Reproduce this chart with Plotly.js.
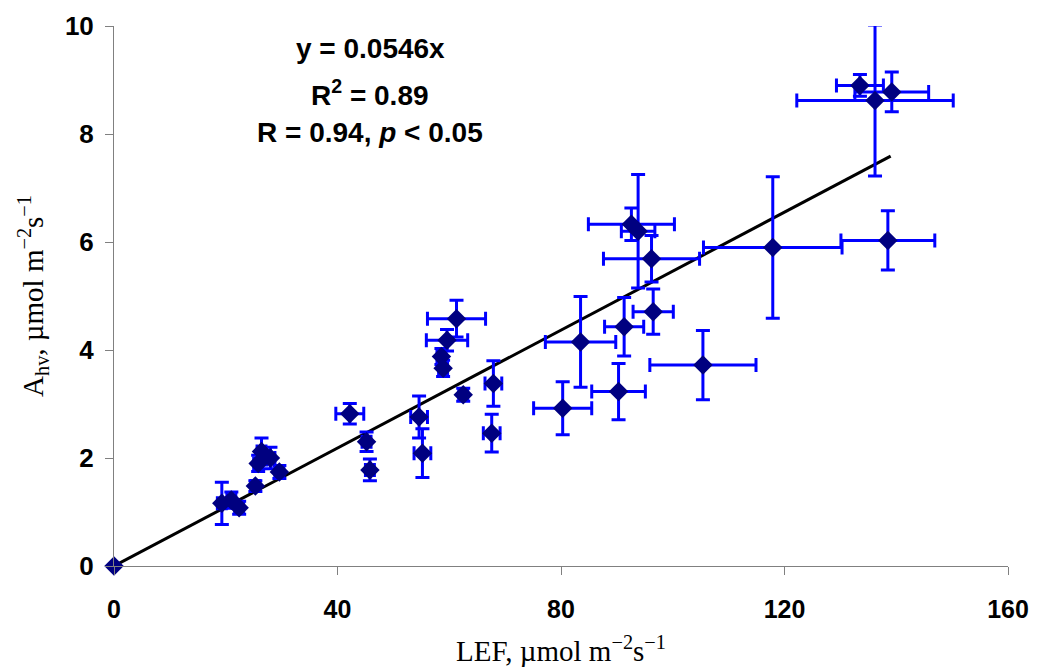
<!DOCTYPE html>
<html>
<head>
<meta charset="utf-8">
<script src="https://cdn.plot.ly/plotly-3.0.1.min.js"></script>
<style>html,body{margin:0;padding:0;background:#fff;}#chart{width:1045px;height:670px;}</style>
</head>
<body>
<div id="chart"></div>
<script>
const lef   = [0, 19.3, 21.0, 22.4, 25.3, 26.4, 25.8, 28.0, 29.6, 42.2, 45.2, 45.8, 54.6, 55.2, 61.3, 59.6, 58.6, 58.9, 62.5, 67.9, 67.6, 92.6, 93.8, 96.2, 96.5, 91.3, 83.5, 90.3, 80.3, 105.4, 117.9, 138.5, 133.5, 136.2, 139.2];
const ahv   = [0, 1.16, 1.22, 1.08, 1.48, 2.12, 1.90, 2.00, 1.74, 2.82, 2.30, 1.78, 2.76, 2.09, 4.58, 4.18, 3.88, 3.66, 3.17, 3.38, 2.46, 6.33, 6.20, 5.69, 4.71, 4.43, 4.15, 3.23, 2.92, 3.72, 5.90, 6.03, 8.90, 8.62, 8.78];
const lefErr = [0, 0.8, 0.8, 0.8, 0.8, 0.8, 0.8, 0.8, 0.8, 2.5, 0.8, 0.8, 1.5, 1.5, 5.2, 3.7, 0.8, 0.8, 0.8, 1.5, 1.5, 7.7, 3.0, 8.6, 3.6, 3.5, 6.3, 4.8, 5.2, 9.5, 12.4, 8.4, 4.2, 14.0, 6.6];
const ahvErr = [0, 0.39, 0.15, 0.12, 0.10, 0.25, 0.15, 0.20, 0.12, 0.19, 0.18, 0.20, 0.39, 0.45, 0.34, 0.20, 0.15, 0.15, 0.12, 0.42, 0.35, 0.30, 1.05, 0.43, 0.42, 0.54, 0.84, 0.52, 0.49, 0.64, 1.31, 0.55, 0.20, 1.40, 0.37];
const slope = 0.0546;
const fitX = [0, 139];
const fitY = fitX.map(v => slope * v);
const xTicks = [0, 40, 80, 120, 160];
const yTicks = [0, 2, 4, 6, 8, 10];
const statLines = ["y = 0.0546x", "R<sup>2</sup> = 0.89", "R = 0.94, <i>p</i> < 0.05"];

const traces = [
  {
    x: fitX, y: fitY, mode: 'lines', type: 'scatter',
    line: {color: '#000000', width: 3}, hoverinfo: 'skip', cliponaxis: false
  },
  {
    x: lef, y: ahv, mode: 'markers', type: 'scatter', cliponaxis: false,
    marker: {symbol: 'diamond', size: 15, color: '#000080', line: {width: 0}},
    error_x: {type: 'data', array: lefErr, visible: true, color: '#0000FF', thickness: 3, width: 7},
    error_y: {type: 'data', array: ahvErr, visible: true, color: '#0000FF', thickness: 3, width: 7}
  }
];

const annFont = {family: 'Liberation Sans, Arial, sans-serif', size: 28, color: '#000'};
const annotations = statLines.map((t, i) => ({
  text: '<b>' + t + '</b>', xref: 'paper', yref: 'paper',
  x: (370 - 114) / (1008 - 114), y: 1 - ([48, 93, 132][i] - 25.7) / (566 - 25.7),
  xanchor: 'center', yanchor: 'middle', showarrow: false, font: annFont
}));

const layout = {
  width: 1045, height: 670,
  margin: {l: 114, r: 37, t: 26, b: 104},
  paper_bgcolor: '#fff', plot_bgcolor: '#fff',
  showlegend: false,
  xaxis: {
    range: [0, 160], tickvals: xTicks, ticktext: xTicks.map(String),
    showgrid: false, zeroline: false, showline: true, linecolor: '#808080', linewidth: 1,
    ticks: 'outside', ticklen: 8, tickcolor: '#808080', ticklabelstandoff: 13,
    tickfont: {family: 'Liberation Sans Narrow, Arial Narrow, Liberation Sans, sans-serif', size: 25, color: '#000', weight: 'bold'},
    title: {text: 'LEF, µmol m<sup>−2</sup>s<sup>−1</sup>', standoff: 18,
      font: {family: 'Liberation Serif, Times New Roman, serif', size: 29, color: '#000'}}
  },
  yaxis: {
    range: [0, 10], tickvals: yTicks, ticktext: yTicks.map(String),
    showgrid: false, zeroline: false, showline: true, linecolor: '#808080', linewidth: 1,
    ticks: 'outside', ticklen: 8, tickcolor: '#808080', ticklabelstandoff: 6,
    tickfont: {family: 'Liberation Sans, Arial, sans-serif', size: 26, color: '#000', weight: 'bold'},
    title: {text: 'A<sub>hv</sub>, µmol m<sup>−2</sup>s<sup>−1</sup>', standoff: 12,
      font: {family: 'Liberation Serif, Times New Roman, serif', size: 29, color: '#000'}}
  },
  annotations: annotations
};

Plotly.newPlot('chart', traces, layout, {displayModeBar: false, staticPlot: true});
</script>
</body>
</html>
